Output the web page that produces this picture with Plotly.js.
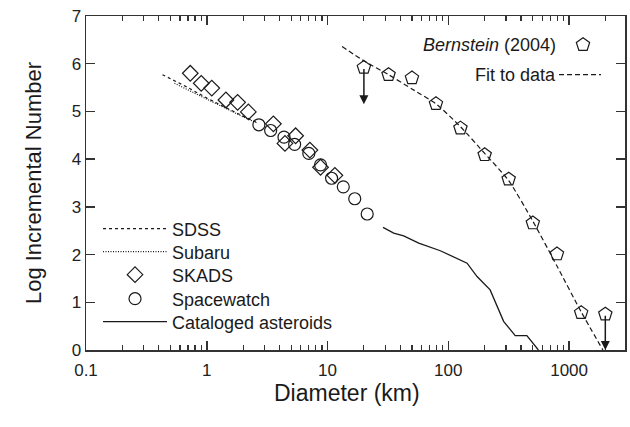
<!DOCTYPE html>
<html>
<head>
<meta charset="utf-8">
<script src="https://cdn.plot.ly/plotly-3.0.1.min.js"></script>
<style>
  html, body { margin: 0; padding: 0; background: #fff; }
  #chart { width: 630px; height: 427px; }
</style>
</head>
<body>
<div id="chart"></div>
<script>
// Survey size distributions: diameter (km) vs log incremental number
const sdssD = [0.43, 0.7, 1.0, 1.5, 2.0, 2.55];
const sdssN = [5.77, 5.5, 5.28, 5.05, 4.9, 4.78];

const subaruD = [0.54, 0.8, 1.1, 1.6, 2.1, 2.6];
const subaruN = [5.59, 5.38, 5.2, 5.0, 4.86, 4.76];

const skadsD = [0.73, 0.90, 1.10, 1.44, 1.80, 2.21, 3.56, 4.44, 5.44, 7.14, 8.75, 11.5];
const skadsN = [5.80, 5.59, 5.49, 5.24, 5.19, 4.99, 4.74, 4.33, 4.49, 4.19, 3.83, 3.66];

const spacewatchD = [2.70, 3.38, 4.36, 5.34, 7.0, 8.75, 10.8, 13.5, 16.8, 21.3];
const spacewatchN = [4.72, 4.60, 4.46, 4.31, 4.12, 3.88, 3.60, 3.42, 3.17, 2.85];

const catalogD = [28.8, 35.3, 42.7, 56.9, 85.9, 107, 143, 173, 222, 287, 358, 447, 557];
const catalogN = [2.57, 2.45, 2.39, 2.24, 2.08, 1.97, 1.82, 1.54, 1.26, 0.60, 0.30, 0.30, 0.0];

const bernsteinD = [20, 32, 50, 79, 126, 200, 316, 501, 794, 1259, 1995];
const bernsteinN = [5.92, 5.77, 5.70, 5.16, 4.65, 4.09, 3.58, 2.66, 2.01, 0.78, 0.75];

const fitD = [13.2, 20, 32, 50, 79, 126, 200, 316, 501, 794, 1259, 1905];
const fitN = [6.36, 6.06, 5.77, 5.47, 5.16, 4.68, 4.12, 3.55, 2.70, 1.76, 0.80, 0.0];

// Upper limits drawn as downward arrows: [diameter, from, to]
const upperLimits = [[20, 5.92, 5.15], [1995, 0.75, 0.0]];

const xTickVals = [0.1, 1, 10, 100, 1000];
const xTickText = ['0.1', '1', '10', '100', '1000'];
const yTickVals = [0, 1, 2, 3, 4, 5, 6, 7];

const ink = '#1a1a1a';
const font = 'Liberation Sans, Arial, Helvetica, sans-serif';

// minor ticks at 2..9 of each decade
const minorVals = [];
for (let e = -1; e <= 3; e++) {
  for (let k = 2; k <= 9; k++) {
    const v = k * Math.pow(10, e);
    if (v < 2900) minorVals.push(v);
  }
}

const traces = [
  { x: sdssD, y: sdssN, name: 'SDSS', mode: 'lines', legend: 'legend',
    line: { color: ink, width: 1.2, dash: '3px,3px' } },
  { x: subaruD, y: subaruN, name: 'Subaru', mode: 'lines', legend: 'legend3',
    line: { color: ink, width: 1.2, dash: '1px,1.5px' } },
  { x: skadsD, y: skadsN, name: 'SKADS', mode: 'markers', legend: 'legend4',
    marker: { symbol: 'diamond-open', size: 12, color: ink, line: { width: 1.2, color: ink } } },
  { x: spacewatchD, y: spacewatchN, name: 'Spacewatch', mode: 'markers', legend: 'legend5',
    marker: { symbol: 'circle-open', size: 12, color: ink, line: { width: 1.2, color: ink } } },
  { x: catalogD, y: catalogN, name: 'Cataloged asteroids', mode: 'lines', legend: 'legend6',
    line: { color: ink, width: 1.3 } },
  { x: fitD, y: fitN, name: '', mode: 'lines', legend: 'legend7',
    line: { color: ink, width: 1.2, dash: '5px,3px', shape: 'spline', smoothing: 0.6 } },
  { x: bernsteinD, y: bernsteinN, name: '', mode: 'markers', legend: 'legend2',
    marker: { symbol: 'pentagon-open', size: 14, color: ink, line: { width: 1.2, color: ink } } }
];

const annotations = upperLimits.map(([d, from, to]) => ({
  x: Math.log10(d), y: to, ax: Math.log10(d), ay: from,
  xref: 'x', yref: 'y', axref: 'x', ayref: 'y',
  showarrow: true, arrowhead: 2, arrowsize: 1.2, arrowwidth: 1.5, arrowcolor: ink, text: ''
}));
annotations.push(
  { xref: 'paper', yref: 'paper', x: 0.876, y: 0.912, xanchor: 'right', yanchor: 'middle',
    text: '<i>Bernstein</i> (2004)', showarrow: false, font: { family: font, size: 18, color: ink } },
  { xref: 'paper', yref: 'paper', x: 0.8757, y: 0.8234, xanchor: 'right', yanchor: 'middle',
    text: 'Fit to data', showarrow: false, font: { family: font, size: 18, color: ink } },
  { xref: 'paper', yref: 'paper', x: 0.4842, y: -0.1287, xanchor: 'center', yanchor: 'middle',
    text: 'Diameter (km)', showarrow: false, font: { family: font, size: 23, color: ink } }
);

const axisCommon = {
  showline: true, linecolor: '#333', linewidth: 1.5, mirror: 'ticks',
  ticks: 'inside', ticklen: 9, tickwidth: 1.5, tickcolor: '#333',
  showgrid: false, zeroline: false,
  tickfont: { family: font, size: 17, color: '#222' }
};

// one single-entry legend per series so each row sits at its own height
function legendAt(xPaper, yPaper, width) {
  return {
    x: xPaper, y: yPaper, xanchor: 'left', yanchor: 'middle',
    bgcolor: 'rgba(0,0,0,0)', itemwidth: width,
    font: { family: font, size: 18, color: ink }
  };
}

const layout = {
  width: 630, height: 427,
  margin: { l: 86, r: 5, t: 16, b: 77 },
  paper_bgcolor: '#fff', plot_bgcolor: '#fff',
  font: { family: font, color: ink },
  showlegend: true,
  xaxis: Object.assign({}, axisCommon, {
    type: 'log', range: [-1, 3.463],
    tickmode: 'array', tickvals: xTickVals, ticktext: xTickText,
    ticklabelstandoff: 4,
    minor: { tickmode: 'array', tickvals: minorVals, ticks: 'inside', ticklen: 5, tickwidth: 1.2, tickcolor: '#333' }
  }),
  yaxis: Object.assign({}, axisCommon, {
    range: [0, 7], tickmode: 'array', tickvals: yTickVals,
    title: { text: 'Log Incremental Number', font: { family: font, size: 22, color: ink }, standoff: 24 }
  }),
  legend: legendAt(0.0223, 0.3623, 64),
  legend3: legendAt(0.0223, 0.2934, 64),
  legend4: legendAt(0.0223, 0.2246, 64),
  legend5: legendAt(0.0223, 0.1527, 64),
  legend6: legendAt(0.0223, 0.0838, 64),
  legend2: legendAt(0.8757, 0.9132, 40),
  legend7: legendAt(0.8683, 0.8234, 42),
  annotations: annotations
};

Plotly.newPlot('chart', traces, layout, { staticPlot: true, displayModeBar: false });
</script>
</body>
</html>
